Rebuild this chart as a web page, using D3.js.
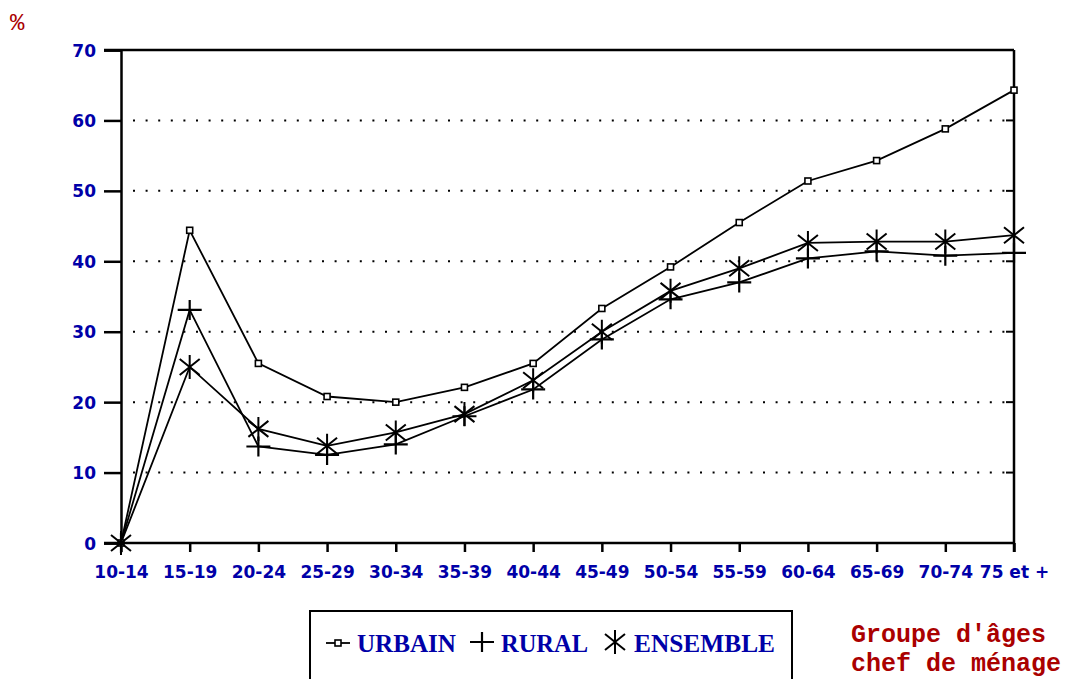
<!DOCTYPE html>
<html>
<head>
<meta charset="utf-8">
<script src="https://cdn.jsdelivr.net/npm/d3@7"></script>
<style>
  body { margin: 0; background: #fff; }
  svg { display: block; }
  .tick-lbl { font-family: "DejaVu Sans", sans-serif; font-weight: bold; font-size: 17px; fill: #0000a8; }
</style>
</head>
<body>
<div id="chart"></div>
<script>
// age groups of household head
const categories = ["10-14", "15-19", "20-24", "25-29", "30-34", "35-39", "40-44",
    "45-49", "50-54", "55-59", "60-64", "65-69", "70-74", "75 et +"];
const urbain = [0, 44.4, 25.5, 20.8, 20.0, 22.1, 25.5, 33.3, 39.2, 45.5, 51.4, 54.3, 58.8, 64.3];
const rural = [0, 33.1, 13.7, 12.5, 14.0, 18.0, 21.8, 28.9, 34.6, 37.0, 40.4, 41.4, 40.8, 41.2];
const ensemble = [0, 25.0, 16.2, 13.8, 15.7, 18.3, 23.1, 30.0, 35.8, 39.0, 42.6, 42.8, 42.8, 43.7];
const yTicks = [0, 10, 20, 30, 40, 50, 60, 70];
const seriesNames = ["URBAIN", "RURAL", "ENSEMBLE"];

const width = 1088, height = 679;
const plotLeft = 121, plotRight = 1014, plotTop = 50, plotBottom = 543;

let svg = d3.select("#chart").append("svg")
    .attr("width", width)
    .attr("height", height);

let x = d3.scalePoint().domain(categories).range([plotLeft, plotRight]);
let y = d3.scaleLinear().domain([0, 70]).range([plotBottom, plotTop]);

// dotted grid
svg.append("g")
    .selectAll("line")
    .data(yTicks.filter(d => d > 0 && d < 70))
    .enter().append("line")
    .attr("x1", plotLeft + 12).attr("x2", plotRight - 6)
    .attr("y1", d => y(d)).attr("y2", d => y(d))
    .attr("stroke", "#000")
    .attr("stroke-width", 2)
    .attr("stroke-dasharray", "2,10.6");

// frame
svg.append("line").attr("x1", 104).attr("x2", plotRight).attr("y1", plotTop).attr("y2", plotTop)
    .attr("stroke", "#000").attr("stroke-width", 2.5);
svg.append("line").attr("x1", plotRight).attr("x2", plotRight).attr("y1", plotTop).attr("y2", plotBottom + 9)
    .attr("stroke", "#000").attr("stroke-width", 2.5);

// left axis
let yAxis = svg.append("g")
    .attr("transform", "translate(" + plotLeft + ",0)")
    .call(d3.axisLeft(y).tickValues(yTicks).tickSize(17).tickPadding(8).tickFormat(d3.format("d")));
yAxis.select(".domain").attr("stroke-width", 2.5);
yAxis.selectAll(".tick line").attr("stroke-width", 2.5);
yAxis.selectAll(".tick text").attr("class", "tick-lbl").attr("font-size", null).attr("font-family", null).attr("fill", null)
    .attr("dy", "0.36em");

// right axis small ticks
svg.append("g").selectAll("line")
    .data(yTicks.filter(d => d > 0 && d < 70))
    .enter().append("line")
    .attr("x1", plotRight - 8).attr("x2", plotRight)
    .attr("y1", d => y(d)).attr("y2", d => y(d))
    .attr("stroke", "#000").attr("stroke-width", 2);

// bottom axis
let xAxis = svg.append("g")
    .attr("transform", "translate(0," + plotBottom + ")")
    .call(d3.axisBottom(x).tickSize(9).tickPadding(14));
xAxis.select(".domain").attr("d", "M104,0H" + plotRight).attr("stroke-width", 2.5);
xAxis.selectAll(".tick line").attr("stroke-width", 2.5);
xAxis.selectAll(".tick text").attr("class", "tick-lbl").attr("font-size", null).attr("font-family", null).attr("fill", null);

// lines
let line = d3.line().x((d, i) => x(categories[i])).y(d => y(d));
[urbain, rural, ensemble].forEach(function (s) {
    svg.append("path").datum(s)
        .attr("d", line)
        .attr("fill", "none")
        .attr("stroke", "#000")
        .attr("stroke-width", 1.8);
});

// markers
function square(g) {
    g.append("rect").attr("x", -3).attr("y", -3).attr("width", 6).attr("height", 6)
        .attr("fill", "#fff").attr("stroke", "#000").attr("stroke-width", 1.6);
}
function plus(g) {
    g.append("path").attr("d", "M-12,0H12M0,-10V10").attr("stroke", "#000").attr("stroke-width", 2.2);
}
function star(g) {
    g.append("path").attr("d", "M0,-12V12M-10,-8L10,8M-10,8L10,-8").attr("stroke", "#000").attr("stroke-width", 2);
}
let markers = [square, plus, star];

[urbain, rural, ensemble].forEach(function (s, k) {
    svg.append("g").selectAll("g")
        .data(s)
        .enter().append("g")
        .attr("transform", (d, i) => "translate(" + x(categories[i]) + "," + y(d) + ")")
        .each(function () { markers[k](d3.select(this)); });
});

// legend
svg.append("rect").attr("x", 310).attr("y", 611).attr("width", 482).attr("height", 80)
    .attr("fill", "#fff").attr("stroke", "#000").attr("stroke-width", 2);
let legendX = [326, 470, 603];
let legend = svg.append("g").selectAll("g")
    .data(seriesNames)
    .enter().append("g")
    .attr("transform", (d, i) => "translate(" + legendX[i] + ",643)");
legend.each(function (d, i) {
    let g = d3.select(this);
    if (i == 0) {
        g.append("line").attr("x1", 0).attr("x2", 24).attr("y1", 0).attr("y2", 0).attr("stroke", "#000").attr("stroke-width", 1.8);
        g.append("g").attr("transform", "translate(12,0)").call(square);
    } else {
        g.append("g").attr("transform", "translate(12,-1)").call(markers[i]);
    }
    g.append("text")
        .attr("x", 31).attr("y", 9)
        .attr("font-family", "Liberation Serif, serif")
        .attr("font-weight", "bold")
        .attr("font-size", 25)
        .attr("textLength", [99, 87, 141][i])
        .attr("lengthAdjust", "spacingAndGlyphs")
        .attr("fill", "#0000a8")
        .text(d);
});

// red titles
let red = "#aa0000";
svg.append("text").attr("x", 10).attr("y", 30)
    .attr("font-family", "Liberation Mono, monospace").attr("font-size", 24).attr("fill", red)
    .text("%");
svg.append("g").selectAll("text")
    .data(["Groupe d'âges", "chef de ménage"])
    .enter().append("text")
    .attr("x", 851).attr("y", (d, i) => 642 + i * 29)
    .attr("font-family", "Liberation Mono, monospace")
    .attr("font-weight", "bold")
    .attr("font-size", 25)
    .attr("fill", red)
    .text(d => d);
</script>
</body>
</html>
